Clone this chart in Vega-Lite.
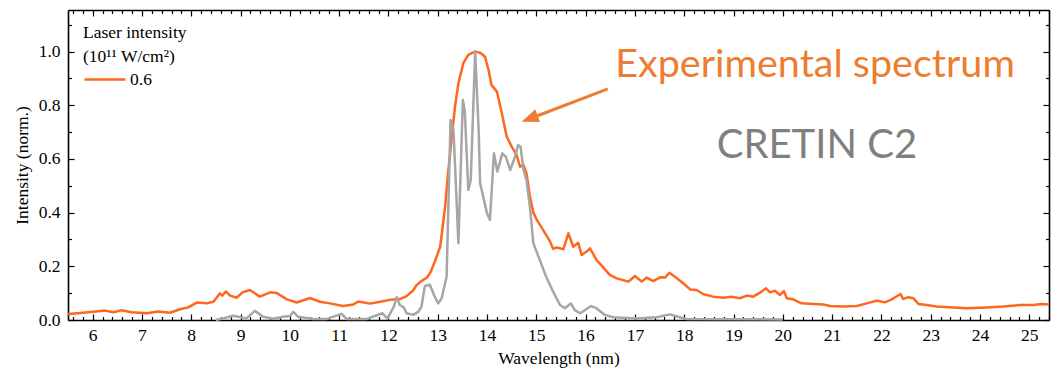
{
  "$schema": "https://vega.github.io/schema/vega-lite/v6.json",
  "width": 981,
  "height": 310,
  "autosize": {"type": "none"},
  "padding": {"left": 68, "top": 10, "right": 2, "bottom": 51},
  "background": "white",
  "config": {"font": "Liberation Serif", "view": {"stroke": null}},
  "datasets": {
    "experiment": [
      {"wavelength": 5.5, "intensity": 0.022}, {"wavelength": 5.75, "intensity": 0.026}, {"wavelength": 6.01, "intensity": 0.031},
      {"wavelength": 6.25, "intensity": 0.035}, {"wavelength": 6.42, "intensity": 0.029}, {"wavelength": 6.59, "intensity": 0.036},
      {"wavelength": 6.79, "intensity": 0.029}, {"wavelength": 7.1, "intensity": 0.025}, {"wavelength": 7.33, "intensity": 0.032},
      {"wavelength": 7.57, "intensity": 0.027}, {"wavelength": 7.77, "intensity": 0.04}, {"wavelength": 7.94, "intensity": 0.047},
      {"wavelength": 8.11, "intensity": 0.065}, {"wavelength": 8.31, "intensity": 0.062}, {"wavelength": 8.45, "intensity": 0.068},
      {"wavelength": 8.58, "intensity": 0.099}, {"wavelength": 8.63, "intensity": 0.091}, {"wavelength": 8.7, "intensity": 0.106},
      {"wavelength": 8.79, "intensity": 0.091}, {"wavelength": 8.92, "intensity": 0.083}, {"wavelength": 9.04, "intensity": 0.103},
      {"wavelength": 9.19, "intensity": 0.112}, {"wavelength": 9.39, "intensity": 0.087}, {"wavelength": 9.6, "intensity": 0.103},
      {"wavelength": 9.73, "intensity": 0.101}, {"wavelength": 9.94, "intensity": 0.077}, {"wavelength": 10.14, "intensity": 0.065},
      {"wavelength": 10.41, "intensity": 0.082}, {"wavelength": 10.61, "intensity": 0.068}, {"wavelength": 10.81, "intensity": 0.062},
      {"wavelength": 11.08, "intensity": 0.052}, {"wavelength": 11.29, "intensity": 0.058}, {"wavelength": 11.39, "intensity": 0.069},
      {"wavelength": 11.63, "intensity": 0.061}, {"wavelength": 11.83, "intensity": 0.068}, {"wavelength": 12.03, "intensity": 0.075},
      {"wavelength": 12.23, "intensity": 0.078}, {"wavelength": 12.37, "intensity": 0.089}, {"wavelength": 12.5, "intensity": 0.11},
      {"wavelength": 12.57, "intensity": 0.13}, {"wavelength": 12.67, "intensity": 0.145}, {"wavelength": 12.78, "intensity": 0.158},
      {"wavelength": 12.86, "intensity": 0.18}, {"wavelength": 12.94, "intensity": 0.217}, {"wavelength": 13.05, "intensity": 0.273},
      {"wavelength": 13.15, "intensity": 0.422}, {"wavelength": 13.21, "intensity": 0.547}, {"wavelength": 13.28, "intensity": 0.671},
      {"wavelength": 13.35, "intensity": 0.795}, {"wavelength": 13.42, "intensity": 0.882}, {"wavelength": 13.52, "intensity": 0.957},
      {"wavelength": 13.62, "intensity": 0.988}, {"wavelength": 13.7, "intensity": 0.995}, {"wavelength": 13.76, "intensity": 1.0},
      {"wavelength": 13.86, "intensity": 0.996}, {"wavelength": 13.96, "intensity": 0.981}, {"wavelength": 14.03, "intensity": 0.932},
      {"wavelength": 14.09, "intensity": 0.876}, {"wavelength": 14.2, "intensity": 0.851}, {"wavelength": 14.3, "intensity": 0.77},
      {"wavelength": 14.4, "intensity": 0.683}, {"wavelength": 14.5, "intensity": 0.646}, {"wavelength": 14.6, "intensity": 0.615},
      {"wavelength": 14.67, "intensity": 0.571}, {"wavelength": 14.74, "intensity": 0.578}, {"wavelength": 14.8, "intensity": 0.547},
      {"wavelength": 14.87, "intensity": 0.46}, {"wavelength": 14.94, "intensity": 0.4}, {"wavelength": 15.01, "intensity": 0.373},
      {"wavelength": 15.14, "intensity": 0.335}, {"wavelength": 15.28, "intensity": 0.292}, {"wavelength": 15.34, "intensity": 0.265},
      {"wavelength": 15.41, "intensity": 0.27}, {"wavelength": 15.55, "intensity": 0.264}, {"wavelength": 15.65, "intensity": 0.323},
      {"wavelength": 15.75, "intensity": 0.273}, {"wavelength": 15.85, "intensity": 0.288}, {"wavelength": 15.92, "intensity": 0.242},
      {"wavelength": 16.02, "intensity": 0.255}, {"wavelength": 16.09, "intensity": 0.267}, {"wavelength": 16.22, "intensity": 0.224},
      {"wavelength": 16.36, "intensity": 0.195}, {"wavelength": 16.49, "intensity": 0.168}, {"wavelength": 16.63, "intensity": 0.155},
      {"wavelength": 16.87, "intensity": 0.143}, {"wavelength": 17.0, "intensity": 0.164}, {"wavelength": 17.14, "intensity": 0.143},
      {"wavelength": 17.24, "intensity": 0.158}, {"wavelength": 17.37, "intensity": 0.145}, {"wavelength": 17.51, "intensity": 0.159},
      {"wavelength": 17.61, "intensity": 0.158}, {"wavelength": 17.7, "intensity": 0.176}, {"wavelength": 17.81, "intensity": 0.161},
      {"wavelength": 17.98, "intensity": 0.137}, {"wavelength": 18.12, "intensity": 0.114}, {"wavelength": 18.25, "intensity": 0.112},
      {"wavelength": 18.39, "intensity": 0.096}, {"wavelength": 18.59, "intensity": 0.087}, {"wavelength": 18.79, "intensity": 0.083},
      {"wavelength": 18.96, "intensity": 0.087}, {"wavelength": 19.13, "intensity": 0.081}, {"wavelength": 19.27, "intensity": 0.091},
      {"wavelength": 19.4, "intensity": 0.087}, {"wavelength": 19.54, "intensity": 0.102}, {"wavelength": 19.66, "intensity": 0.118},
      {"wavelength": 19.74, "intensity": 0.103}, {"wavelength": 19.84, "intensity": 0.109}, {"wavelength": 19.94, "intensity": 0.093},
      {"wavelength": 20.02, "intensity": 0.108}, {"wavelength": 20.08, "intensity": 0.081}, {"wavelength": 20.21, "intensity": 0.077},
      {"wavelength": 20.38, "intensity": 0.062}, {"wavelength": 20.62, "intensity": 0.06}, {"wavelength": 20.82, "intensity": 0.058},
      {"wavelength": 20.96, "intensity": 0.052}, {"wavelength": 21.23, "intensity": 0.05}, {"wavelength": 21.5, "intensity": 0.052},
      {"wavelength": 21.7, "intensity": 0.062}, {"wavelength": 21.9, "intensity": 0.072}, {"wavelength": 22.07, "intensity": 0.066},
      {"wavelength": 22.21, "intensity": 0.077}, {"wavelength": 22.39, "intensity": 0.097}, {"wavelength": 22.44, "intensity": 0.078},
      {"wavelength": 22.54, "intensity": 0.085}, {"wavelength": 22.65, "intensity": 0.081}, {"wavelength": 22.75, "intensity": 0.06},
      {"wavelength": 22.92, "intensity": 0.056}, {"wavelength": 23.12, "intensity": 0.05}, {"wavelength": 23.46, "intensity": 0.047},
      {"wavelength": 23.73, "intensity": 0.044}, {"wavelength": 24.13, "intensity": 0.047}, {"wavelength": 24.47, "intensity": 0.05},
      {"wavelength": 24.81, "intensity": 0.056}, {"wavelength": 25.08, "intensity": 0.056}, {"wavelength": 25.25, "intensity": 0.06},
      {"wavelength": 25.4, "intensity": 0.058}
    ],
    "simulation": [
      {"wavelength": 8.5, "intensity": 0.0}, {"wavelength": 8.65, "intensity": 0.006}, {"wavelength": 8.85, "intensity": 0.016},
      {"wavelength": 9.12, "intensity": 0.006}, {"wavelength": 9.29, "intensity": 0.034}, {"wavelength": 9.46, "intensity": 0.012},
      {"wavelength": 9.66, "intensity": 0.005}, {"wavelength": 9.87, "intensity": 0.012}, {"wavelength": 10.0, "intensity": 0.015},
      {"wavelength": 10.07, "intensity": 0.03}, {"wavelength": 10.17, "intensity": 0.012}, {"wavelength": 10.48, "intensity": 0.004},
      {"wavelength": 10.75, "intensity": 0.004}, {"wavelength": 11.05, "intensity": 0.023}, {"wavelength": 11.15, "intensity": 0.004},
      {"wavelength": 11.56, "intensity": 0.004}, {"wavelength": 11.88, "intensity": 0.025}, {"wavelength": 11.98, "intensity": 0.005},
      {"wavelength": 12.11, "intensity": 0.05}, {"wavelength": 12.17, "intensity": 0.086}, {"wavelength": 12.23, "intensity": 0.056},
      {"wavelength": 12.31, "intensity": 0.047}, {"wavelength": 12.37, "intensity": 0.025}, {"wavelength": 12.5, "intensity": 0.019},
      {"wavelength": 12.61, "intensity": 0.031}, {"wavelength": 12.67, "intensity": 0.05}, {"wavelength": 12.74, "intensity": 0.127},
      {"wavelength": 12.84, "intensity": 0.131}, {"wavelength": 12.94, "intensity": 0.087}, {"wavelength": 13.01, "intensity": 0.062},
      {"wavelength": 13.08, "intensity": 0.081}, {"wavelength": 13.18, "intensity": 0.161}, {"wavelength": 13.26, "intensity": 0.745},
      {"wavelength": 13.32, "intensity": 0.708}, {"wavelength": 13.42, "intensity": 0.286}, {"wavelength": 13.51, "intensity": 0.82},
      {"wavelength": 13.55, "intensity": 0.776}, {"wavelength": 13.62, "intensity": 0.485}, {"wavelength": 13.67, "intensity": 0.522},
      {"wavelength": 13.76, "intensity": 1.0}, {"wavelength": 13.83, "intensity": 0.708}, {"wavelength": 13.86, "intensity": 0.51},
      {"wavelength": 14.0, "intensity": 0.398}, {"wavelength": 14.06, "intensity": 0.373}, {"wavelength": 14.14, "intensity": 0.621},
      {"wavelength": 14.21, "intensity": 0.553}, {"wavelength": 14.31, "intensity": 0.621}, {"wavelength": 14.38, "intensity": 0.609},
      {"wavelength": 14.47, "intensity": 0.559}, {"wavelength": 14.57, "intensity": 0.609}, {"wavelength": 14.63, "intensity": 0.652},
      {"wavelength": 14.68, "intensity": 0.646}, {"wavelength": 14.74, "intensity": 0.559}, {"wavelength": 14.8, "intensity": 0.522},
      {"wavelength": 14.87, "intensity": 0.422}, {"wavelength": 14.94, "intensity": 0.286}, {"wavelength": 15.07, "intensity": 0.224},
      {"wavelength": 15.2, "intensity": 0.161}, {"wavelength": 15.34, "intensity": 0.106}, {"wavelength": 15.48, "intensity": 0.056},
      {"wavelength": 15.58, "intensity": 0.044}, {"wavelength": 15.7, "intensity": 0.062}, {"wavelength": 15.78, "intensity": 0.037},
      {"wavelength": 15.89, "intensity": 0.025}, {"wavelength": 15.99, "intensity": 0.037}, {"wavelength": 16.11, "intensity": 0.052},
      {"wavelength": 16.22, "intensity": 0.044}, {"wavelength": 16.39, "intensity": 0.019}, {"wavelength": 16.56, "intensity": 0.01},
      {"wavelength": 17.03, "intensity": 0.006}, {"wavelength": 17.44, "intensity": 0.01}, {"wavelength": 17.71, "intensity": 0.021},
      {"wavelength": 17.91, "intensity": 0.01}, {"wavelength": 18.05, "intensity": 0.004}, {"wavelength": 20.0, "intensity": 0.002}
    ],
    "notes": [
      {"wavelength": 16.6, "intensity": 0.906, "label": "Experimental spectrum", "series": "experiment"},
      {"wavelength": 18.66, "intensity": 0.604, "label": "CRETIN C2", "series": "simulation"}
    ],
    "arrow": [
      {"wavelength": 16.45, "intensity": 0.861, "wavelength_end": 15.025, "intensity_end": 0.761, "head_wavelength": 14.865, "head_intensity": 0.75}
    ]
  },
  "layer": [
    {
      "data": {"name": "experiment"},
      "mark": {"type": "line", "strokeWidth": 2.5, "strokeJoin": "round"},
      "encoding": {
        "x": {
          "field": "wavelength", "type": "quantitative",
          "scale": {"domain": [5.5, 25.4], "nice": false, "zero": false},
          "axis": {
            "orient": "bottom",
            "values": [5.6,5.8,6,6.2,6.4,6.6,6.8,7,7.2,7.4,7.6,7.8,8,8.2,8.4,8.6,8.8,9,9.2,9.4,9.6,9.8,10,10.2,10.4,10.6,10.8,11,11.2,11.4,11.6,11.8,12,12.2,12.4,12.6,12.8,13,13.2,13.4,13.6,13.8,14,14.2,14.4,14.6,14.8,15,15.2,15.4,15.6,15.8,16,16.2,16.4,16.6,16.8,17,17.2,17.4,17.6,17.8,18,18.2,18.4,18.6,18.8,19,19.2,19.4,19.6,19.8,20,20.2,20.4,20.6,20.8,21,21.2,21.4,21.6,21.8,22,22.2,22.4,22.6,22.8,23,23.2,23.4,23.6,23.8,24,24.2,24.4,24.6,24.8,25,25.2,25.4],
            "title": "Wavelength (nm)",
            "titleFont": "Liberation Serif", "titleFontSize": 17.5, "titleFontWeight": "normal", "titleColor": "black", "titlePadding": 3,
            "labelFont": "Liberation Serif", "labelFontSize": 17.5, "labelColor": "black",
            "labelExpr": "abs(datum.value - round(datum.value)) < 0.01 ? format(datum.value, 'd') : ''",
            "labelPadding": 12, "labelOverlap": false, "labelFlush": false,
            "tickSize": {"condition": {"test": "abs(datum.value - round(datum.value)) < 0.01", "value": -6}, "value": -3.5},
            "tickColor": "black", "tickWidth": 1.2,
            "domainColor": "black", "domainWidth": 1.6, "grid": false
          }
        },
        "y": {
          "field": "intensity", "type": "quantitative",
          "scale": {"domain": [0, 1.155], "nice": false},
          "axis": {
            "orient": "left",
            "values": [0, 0.1, 0.2, 0.3, 0.4, 0.5, 0.6, 0.7, 0.8, 0.9, 1.0, 1.1],
            "title": "Intensity (norm.)",
            "titleFont": "Liberation Serif", "titleFontSize": 17.5, "titleFontWeight": "normal", "titleColor": "black", "titlePadding": 7,
            "labelFont": "Liberation Serif", "labelFontSize": 17.5, "labelColor": "black",
            "labelExpr": "abs(datum.value * 5 - round(datum.value * 5)) < 0.01 ? format(datum.value, '.1f') : ''",
            "labelPadding": 14, "labelOverlap": false, "labelFlush": false,
            "tickSize": {"condition": {"test": "abs(datum.value * 5 - round(datum.value * 5)) < 0.01", "value": -6}, "value": -3.5},
            "tickColor": "black", "tickWidth": 1.2,
            "domainColor": "black", "domainWidth": 1.6, "grid": false
          }
        },
        "color": {
          "datum": "0.6", "type": "nominal",
          "scale": {"range": ["#ff671f"]},
          "legend": {
            "orient": "none", "legendX": 15, "legendY": 14,
            "title": ["Laser intensity", "(10¹¹ W/cm²)"],
            "titleFont": "Liberation Serif", "titleFontSize": 17.5, "titleFontWeight": "normal", "titleColor": "black",
            "titleLineHeight": 24, "titlePadding": -8,
            "labelFont": "Liberation Serif", "labelFontSize": 17.5, "labelColor": "black", "labelOffset": 3,
            "symbolType": "stroke", "symbolSize": 1681, "symbolStrokeWidth": 2.5
          }
        }
      }
    },
    {
      "data": {"name": "simulation"},
      "mark": {"type": "line", "color": "#a6a6a6", "strokeWidth": 2.5, "strokeJoin": "round"},
      "encoding": {
        "x": {
          "field": "wavelength", "type": "quantitative",
          "axis": {
            "orient": "top", "title": null, "labels": false,
            "values": [5.6,5.8,6,6.2,6.4,6.6,6.8,7,7.2,7.4,7.6,7.8,8,8.2,8.4,8.6,8.8,9,9.2,9.4,9.6,9.8,10,10.2,10.4,10.6,10.8,11,11.2,11.4,11.6,11.8,12,12.2,12.4,12.6,12.8,13,13.2,13.4,13.6,13.8,14,14.2,14.4,14.6,14.8,15,15.2,15.4,15.6,15.8,16,16.2,16.4,16.6,16.8,17,17.2,17.4,17.6,17.8,18,18.2,18.4,18.6,18.8,19,19.2,19.4,19.6,19.8,20,20.2,20.4,20.6,20.8,21,21.2,21.4,21.6,21.8,22,22.2,22.4,22.6,22.8,23,23.2,23.4,23.6,23.8,24,24.2,24.4,24.6,24.8,25,25.2,25.4],
            "tickSize": {"condition": {"test": "abs(datum.value - round(datum.value)) < 0.01", "value": -6}, "value": -3.5},
            "tickColor": "black", "tickWidth": 1.2,
            "domainColor": "black", "domainWidth": 1.6, "grid": false
          }
        },
        "y": {
          "field": "intensity", "type": "quantitative",
          "axis": {
            "orient": "right", "title": null, "labels": false,
            "values": [0, 0.1, 0.2, 0.3, 0.4, 0.5, 0.6, 0.7, 0.8, 0.9, 1.0, 1.1],
            "tickSize": {"condition": {"test": "abs(datum.value * 5 - round(datum.value * 5)) < 0.01", "value": -6}, "value": -3.5},
            "tickColor": "black", "tickWidth": 1.2,
            "domainColor": "black", "domainWidth": 1.6, "grid": false
          }
        }
      }
    },
    {
      "data": {"name": "arrow"},
      "mark": {"type": "rule", "color": "#ed7d31", "strokeWidth": 3},
      "encoding": {
        "x": {"field": "wavelength", "type": "quantitative", "axis": null},
        "y": {"field": "intensity", "type": "quantitative", "axis": null},
        "x2": {"field": "wavelength_end"},
        "y2": {"field": "intensity_end"}
      }
    },
    {
      "data": {"name": "arrow"},
      "mark": {"type": "point", "shape": "M0,-1L0.8,1L-0.8,1Z", "angle": 249.3, "size": 289, "filled": true, "color": "#ed7d31", "opacity": 1},
      "encoding": {
        "x": {"field": "head_wavelength", "type": "quantitative", "axis": null},
        "y": {"field": "head_intensity", "type": "quantitative", "axis": null}
      }
    },
    {
      "data": {"name": "notes"},
      "transform": [{"filter": "datum.series === 'experiment'"}],
      "mark": {"type": "text", "font": "Lato", "fontSize": 39.5, "color": "#ed7d31", "align": "left", "baseline": "alphabetic"},
      "encoding": {
        "x": {"field": "wavelength", "type": "quantitative", "axis": null},
        "y": {"field": "intensity", "type": "quantitative", "axis": null},
        "text": {"field": "label"}
      }
    },
    {
      "data": {"name": "notes"},
      "transform": [{"filter": "datum.series === 'simulation'"}],
      "mark": {"type": "text", "font": "Lato", "fontSize": 40, "color": "#7f7f7f", "align": "left", "baseline": "alphabetic"},
      "encoding": {
        "x": {"field": "wavelength", "type": "quantitative", "axis": null},
        "y": {"field": "intensity", "type": "quantitative", "axis": null},
        "text": {"field": "label"}
      }
    }
  ],
  "resolve": {"axis": {"x": "independent", "y": "independent"}}
}
